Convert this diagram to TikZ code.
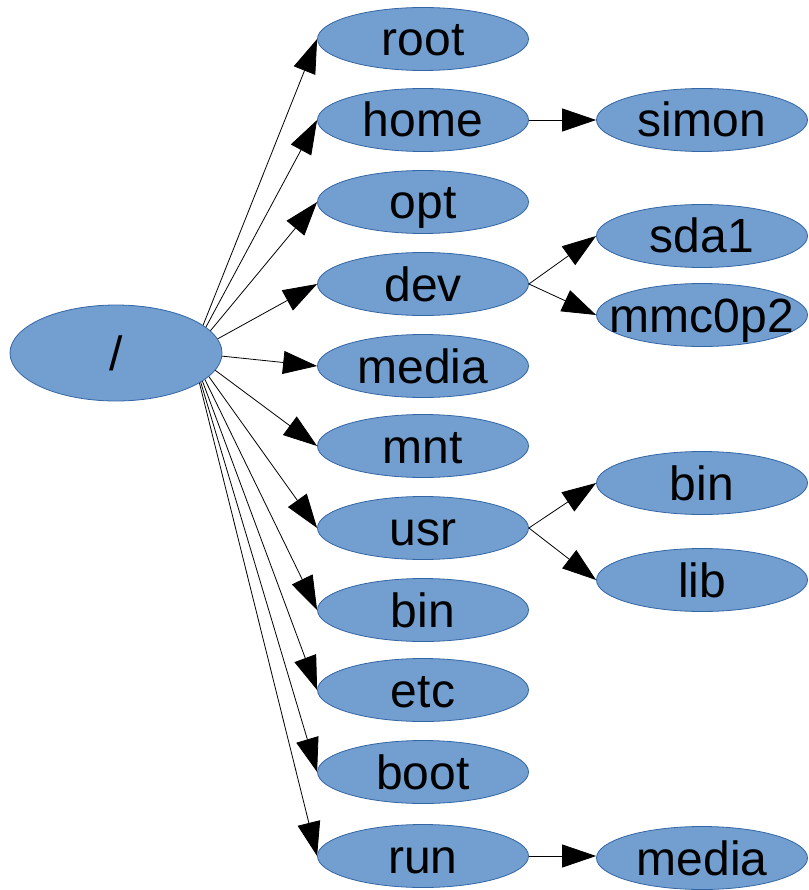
\documentclass[tikz,border=0pt]{standalone}
\usepackage{fontspec}
\setmainfont{Liberation Sans}
\usetikzlibrary{arrows.meta,shapes.geometric,backgrounds}
\definecolor{dirfill}{RGB}{114,159,207}
\definecolor{dirline}{RGB}{52,101,164}
\tikzset{
  dir/.style={ellipse,fill=dirfill,draw=dirline,line width=0.8pt,
    minimum width=211pt,minimum height=63pt,inner xsep=-25pt,inner ysep=0pt,
    text height=39pt,text depth=5pt,font=\fontsize{48}{52}\selectfont},
  link/.style={->,line width=0.8pt}
}
\begin{document}
\begin{tikzpicture}[>={Triangle[length=34pt,width=23pt]},x=1pt,y=-1pt]
  \useasboundingbox (0,0) rectangle (808,890);
  \def\midx{423} % middle column
  \def\rightx{702} % right column
  \node[dir,minimum width=212pt,minimum height=96pt] (slash) at (116,353) {/};
  \coordinate (hub) at (192,353); % lines fan out from here, under the ellipse
  \foreach \n/\y in {root/39,home/120,opt/202,dev/284,media/366,mnt/446,usr/528,bin/610,etc/690,boot/772,run/856}
  {
    \node[dir] (\n) at (\midx,\y) {\n};
    \begin{pgfonlayer}{background}
      \draw[link] (hub) -- (\n.west);
    \end{pgfonlayer}
  }
  \node[dir] (simon) at (\rightx,120) {simon};
  \node[dir] (sda) at (\rightx,236) {sda1};
  \node[dir] (mmc) at (\rightx,315) {mmc0p2};
  \node[dir] (usrbin) at (\rightx,483) {bin};
  \node[dir] (usrlib) at (\rightx,580) {lib};
  \node[dir] (runmedia) at (\rightx,858) {media};
  \draw[link] (home.east) -- (simon.west);
  \draw[link] (dev.east) -- (sda.west);
  \draw[link] (dev.east) -- (mmc.west);
  \draw[link] (usr.east) -- (usrbin.west);
  \draw[link] (usr.east) -- (usrlib.west);
  \draw[link] (run.east) -- (run.east -| runmedia.west);
\end{tikzpicture}
\end{document}
